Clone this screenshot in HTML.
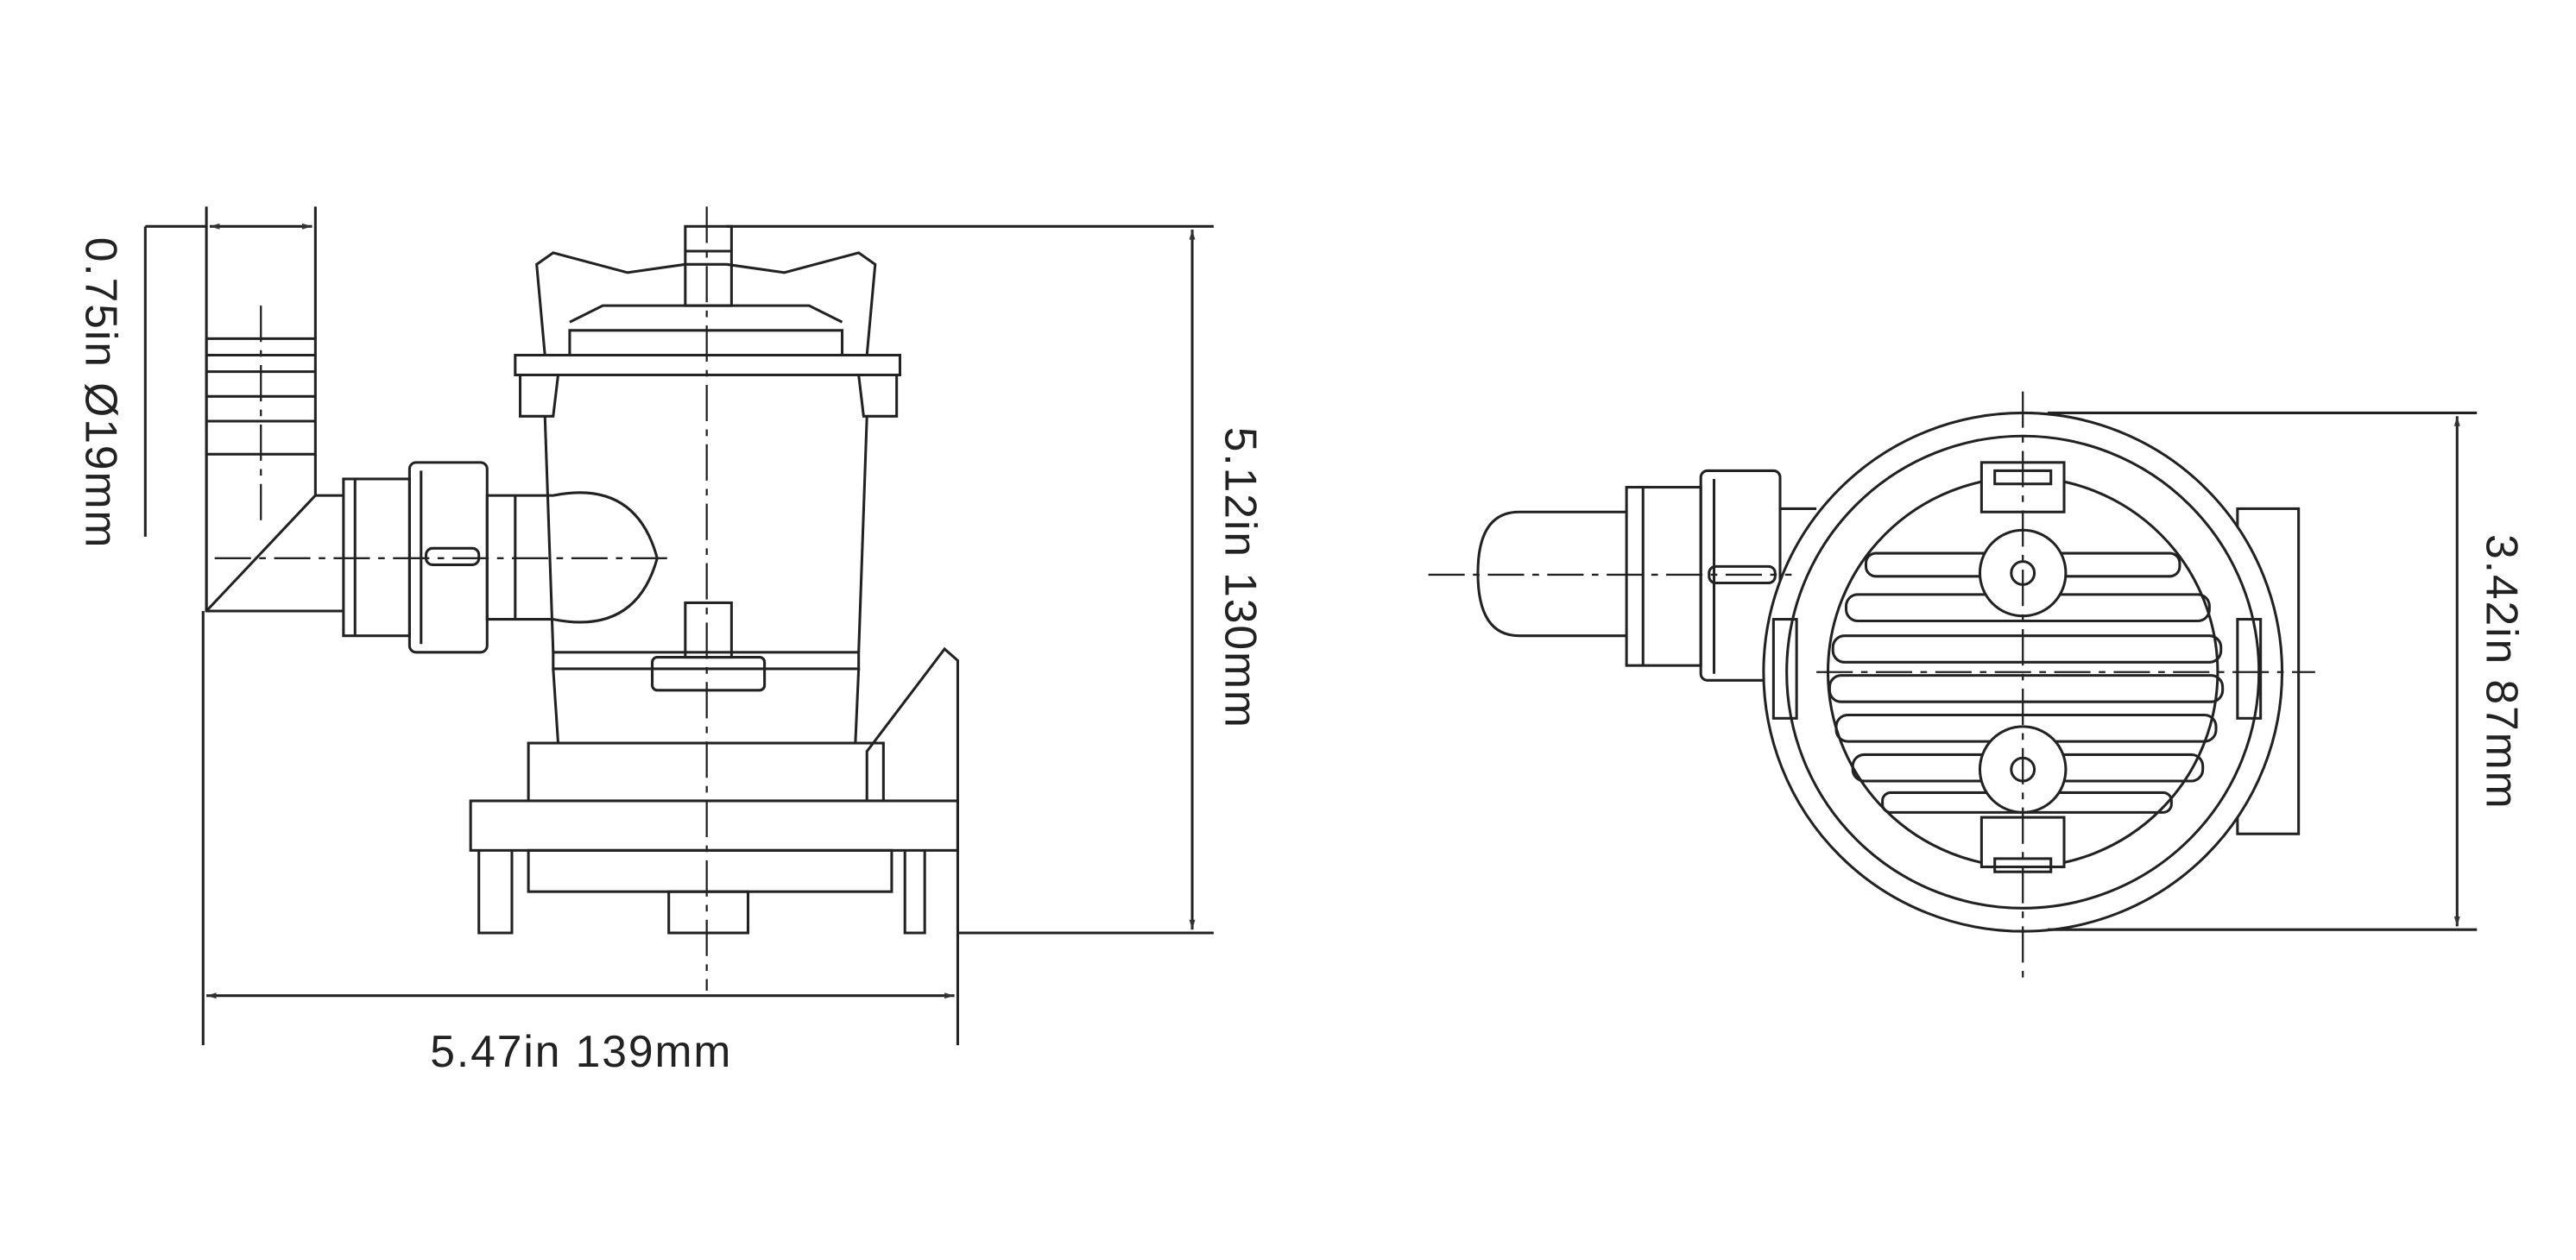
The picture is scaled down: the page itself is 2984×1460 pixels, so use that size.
<!DOCTYPE html>
<html><head><meta charset="utf-8"><style>
html,body{margin:0;padding:0;background:#fff;}
svg{display:block;width:2984px;height:1460px;}
text{font-family:"Liberation Sans",sans-serif;font-size:27px;fill:#222;letter-spacing:1px;}
</style></head><body>
<svg viewBox="0 0 1560 763" xmlns="http://www.w3.org/2000/svg">
<defs><marker id="a" viewBox="0 0 10 10" refX="10" refY="5" markerWidth="14" markerHeight="6" orient="auto-start-reverse" markerUnits="userSpaceOnUse"><path d="M0,2 L10,5 L0,8z" fill="#333"/></marker></defs>
<g fill="none" stroke="#222" stroke-width="1.6">
<!-- LEFT VIEW dims -->
<line x1="125" y1="125" x2="125" y2="370"/><line x1="191" y1="125" x2="191" y2="205"/>
<line x1="88" y1="137" x2="125" y2="137"/><line x1="88" y1="137" x2="88" y2="325"/>
<line x1="127" y1="137" x2="189" y2="137" marker-start="url(#a)" marker-end="url(#a)"/>
<line x1="123" y1="370" x2="123" y2="633"/><line x1="580" y1="485" x2="580" y2="633"/>
<line x1="125" y1="603" x2="578" y2="603" marker-start="url(#a)" marker-end="url(#a)"/>
<line x1="440" y1="137" x2="735" y2="137"/><line x1="580" y1="565" x2="735" y2="565"/>
<line x1="722" y1="139" x2="722" y2="563" marker-start="url(#a)" marker-end="url(#a)"/>
<!-- hose barb + elbow -->
<rect x="125" y="205" width="66" height="70"/>
<line x1="125" y1="215" x2="191" y2="215"/><line x1="125" y1="225" x2="191" y2="225"/>
<line x1="125" y1="240" x2="191" y2="240"/><line x1="125" y1="255" x2="191" y2="255"/>
<path d="M125,275 L125,370 L208,370 M191,275 L191,300 L208,300 M125,370 L191,300"/>
<rect x="208" y="290" width="40" height="95"/><line x1="215" y1="290" x2="215" y2="385"/>
<rect x="248" y="280" width="47" height="115" rx="4"/><line x1="255" y1="285" x2="255" y2="390"/>
<rect x="258" y="332" width="32" height="10" rx="4"/>
<path d="M295,300 L335,300 Q385,290 398,338 Q385,385 335,375 L295,375 Z"/><line x1="312" y1="300" x2="312" y2="375"/>
<!-- body -->
<path d="M330,215 L325,160 L335,153 L380,165 L415,160 L440,160 L475,165 L520,153 L530,160 L525,215"/>
<path d="M345,215 L345,200 L510,200 L510,215 M345,195 L365,185 L490,185 L510,195"/>
<rect x="415" y="137" width="28" height="48"/><line x1="415" y1="152" x2="443" y2="152"/>
<rect x="312" y="215" width="233" height="12"/>
<path d="M315,227 L315,252 L335,252 L338,227 M543,227 L543,252 L523,252 L520,227"/>
<path d="M330,252 L335,395 M525,252 L520,395"/>
<rect x="335" y="395" width="185" height="10"/>
<path d="M335,405 L338,450 M520,405 L518,450"/>
<rect x="395" y="398" width="68" height="20" rx="3"/><rect x="415" y="365" width="28" height="33"/>
<rect x="320" y="450" width="215" height="35"/>
<rect x="285" y="485" width="295" height="30"/>
<path d="M525,485 L525,455 L572,393 L580,400 L580,485"/>
<path d="M290,515 L290,565 L310,565 L310,515 M560,515 L560,565 L548,565 L548,515"/>
<rect x="320" y="515" width="220" height="25"/>
<rect x="405" y="540" width="48" height="25"/>
<!-- centerlines -->
<g stroke-dasharray="22,5,4,5" stroke-width="1.2">
<line x1="428" y1="125" x2="428" y2="600"/><line x1="130" y1="338" x2="405" y2="338"/>
<line x1="158" y1="185" x2="158" y2="320"/>
</g>
<!-- RIGHT VIEW -->
<rect x="1355" y="308" width="37" height="197"/>
<path d="M985,310 L920,310 Q895,310 895,347 Q895,385 920,385 L985,385"/>
<rect x="985" y="295" width="45" height="108"/><line x1="995" y1="295" x2="995" y2="403"/>
<rect x="1030" y="285" width="48" height="127" rx="4"/><line x1="1038" y1="290" x2="1038" y2="408"/>
<rect x="1035" y="343" width="40" height="10" rx="4"/>
<line x1="1078" y1="308" x2="1100" y2="308"/><line x1="1078" y1="405" x2="1095" y2="405"/>
<circle cx="1225" cy="407" r="157" fill="#fff"/>
<circle cx="1225" cy="407" r="143"/>
<circle cx="1225" cy="407" r="118"/>
<g stroke-width="1.6">
<rect x="1130" y="335" width="190" height="14" rx="6"/>
<rect x="1118" y="360" width="220" height="16" rx="7"/>
<rect x="1110" y="385" width="235" height="16" rx="7"/>
<rect x="1108" y="409" width="238" height="16" rx="7"/>
<rect x="1112" y="433" width="230" height="16" rx="7"/>
<rect x="1122" y="457" width="212" height="16" rx="7"/>
<rect x="1140" y="480" width="175" height="12" rx="5"/>
</g>
<rect x="1200" y="280" width="50" height="30" fill="#fff"/><rect x="1208" y="285" width="34" height="8"/>
<rect x="1200" y="495" width="50" height="30" fill="#fff"/><rect x="1208" y="520" width="34" height="8"/>
<circle cx="1225" cy="347" r="26" fill="#fff"/><circle cx="1225" cy="347" r="7"/>
<circle cx="1225" cy="466" r="26" fill="#fff"/><circle cx="1225" cy="466" r="7"/>
<rect x="1074" y="375" width="14" height="60"/><rect x="1355" y="375" width="14" height="60"/>
<g stroke-dasharray="22,5,4,5" stroke-width="1.2">
<line x1="1225" y1="237" x2="1225" y2="592"/><line x1="865" y1="348" x2="1085" y2="348"/>
<line x1="1100" y1="407" x2="1402" y2="407"/>
</g>
<line x1="1240" y1="250" x2="1500" y2="250"/><line x1="1240" y1="563" x2="1500" y2="563"/>
<line x1="1488" y1="252" x2="1488" y2="561" marker-start="url(#a)" marker-end="url(#a)"/>
</g>
<text x="352" y="646" text-anchor="middle">5.47in  139mm</text>
<text transform="translate(52,238) rotate(90)" text-anchor="middle">0.75in  Ø19mm</text>
<text transform="translate(742,350) rotate(90)" text-anchor="middle">5.12in  130mm</text>
<text transform="translate(1506,407) rotate(90)" text-anchor="middle">3.42in  87mm</text>
</svg>
</body></html>
